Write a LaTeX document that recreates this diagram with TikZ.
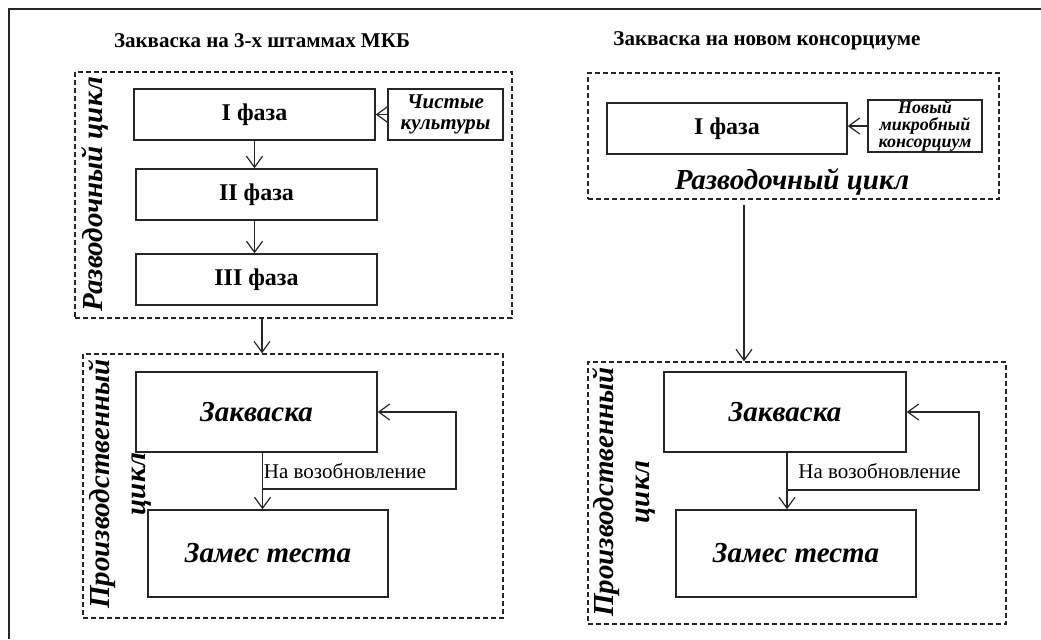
\documentclass[tikz,border=0pt]{standalone}
\usepackage{fontspec}
\setmainfont{Liberation Serif}
\usepackage{tikz}
\usetikzlibrary{arrows.meta}
\tikzstyle{phasebox} = [draw=black!85, line width=0.75pt, rectangle,
    minimum width=120.5pt, minimum height=25.5pt, inner sep=0pt,
    font=\bfseries\fontsize{12}{14}\selectfont]
\tikzstyle{sourcebox} = [draw=black!85, line width=0.75pt, rectangle,
    inner sep=0pt, align=center, font=\bfseries\itshape]
\tikzstyle{workbox} = [draw=black!85, line width=0.75pt, rectangle,
    minimum width=120.5pt, inner sep=0pt,
    font=\bfseries\itshape\fontsize{14.5}{16}\selectfont]
\tikzstyle{cyclebox} = [draw=black!85, line width=0.7pt,
    dash pattern=on 2.5pt off 1.5pt, rectangle, inner sep=0pt]
\tikzstyle{cyclelabel} = [inner sep=0pt, align=center,
    font=\bfseries\itshape\fontsize{14.5}{18}\selectfont]
\tikzstyle{headtitle} = [inner sep=0pt, font=\bfseries\fontsize{10.5}{12}\selectfont]
\tikzstyle{looplabel} = [inner sep=0.5pt, anchor=west, font=\fontsize{10.5}{12}\selectfont]
\tikzstyle{flow} = [draw=black!85, line width=0.6pt,
    -{Straight Barb[length=5.5pt,width=8pt]}]

\begin{document}
\begin{tikzpicture}[x=0.5pt, y=-0.5pt]
    \useasboundingbox (0,0) rectangle (1041,639);
    \draw[line width=1pt, black!85] (1041,8.5) -- (8.5,8.5) -- (8.5,639);

    % left: three strains
    \node[headtitle] (title1) at (262,41) {Закваска на 3-х штаммах МКБ};
    \node[cyclebox, minimum width=218.5pt, minimum height=123pt] (cyc1) at (293.5,195) {};
    \node[cyclelabel, rotate=90] (rot1) at (95,194) {Разводочный цикл};
    \node[phasebox] (ph1) at (254.5,114.5) {I фаза};
    \node[sourcebox, minimum width=57.5pt, minimum height=25.5pt,
        font=\bfseries\itshape\fontsize{10.5}{10.5}\selectfont] (cult) at (445.5,114.5) {Чистые\\культуры};
    \node[phasebox] (ph2) at (256.5,194.5) {II фаза};
    \node[phasebox] (ph3) at (256.5,279.5) {III фаза};
    \draw[flow] (cult.west) -- (ph1.east);
    \draw[flow] (ph1.south) -- (ph1.south |- ph2.north);
    \draw[flow] (ph1.south |- ph2.south) -- (ph1.south |- ph3.north);

    \coordinate (mid1) at (262,336);
    \node[cyclebox, minimum width=210pt, minimum height=132pt] (cyc2) at (293,486) {};
    \draw[flow] (cyc1.south -| mid1) -- (cyc2.north -| mid1);
    \node[cyclelabel, rotate=90] (rot2) at (120,484) {Производственный\\цикл};
    \node[workbox, minimum height=40pt] (zak1) at (256.5,412) {Закваска};
    \node[workbox, minimum width=120pt, minimum height=43.5pt] (zam1) at (268,553.5) {Замес теста};
    \coordinate (col1) at (262.5,489);
    \draw[flow] (zak1.south -| col1) -- (zam1.north -| col1);
    \draw[flow] (col1) -- ++(193.5,0) |- (zak1.east);
    \node[looplabel] (renew1) at (262.5,471) {На возобновление};

    % right: new consortium
    \node[headtitle] (title2) at (767,41) {Закваска на новом консорциуме};
    \node[cyclebox, minimum width=205.5pt, minimum height=63pt] (cyc3) at (793.5,136) {};
    \node[phasebox, minimum width=120pt] (ph4) at (727,128.5) {I фаза};
    \node[sourcebox, minimum width=57pt, minimum height=26pt,
        font=\bfseries\itshape\fontsize{9}{8.5}\selectfont] (micro) at (925,126) {Новый\\микробный\\консорциум};
    \draw[flow] (micro.west) -- (micro.west -| ph4.east);
    \node[cyclelabel] (rot3) at (792,182) {Разводочный цикл};

    \coordinate (mid2) at (744,280);
    \node[cyclebox, minimum width=209pt, minimum height=131pt] (cyc4) at (797,493) {};
    \draw[flow, shorten <=2.5pt] (cyc3.south -| mid2) -- (cyc4.north -| mid2);
    \node[cyclelabel, rotate=90] (rot4) at (623.5,492) {Производственный\\цикл};
    \node[workbox, minimum width=121pt, minimum height=40pt] (zak2) at (785,412) {Закваска};
    \node[workbox, minimum width=120pt, minimum height=43.5pt] (zam2) at (796,553.5) {Замес теста};
    \coordinate (col2) at (787,490);
    \draw[flow] (zak2.south -| col2) -- (zam2.north -| col2);
    \draw[flow] (col2) -- ++(192,0) |- (zak2.east);
    \node[looplabel] (renew2) at (797,471) {На возобновление};
\end{tikzpicture}
\end{document}
